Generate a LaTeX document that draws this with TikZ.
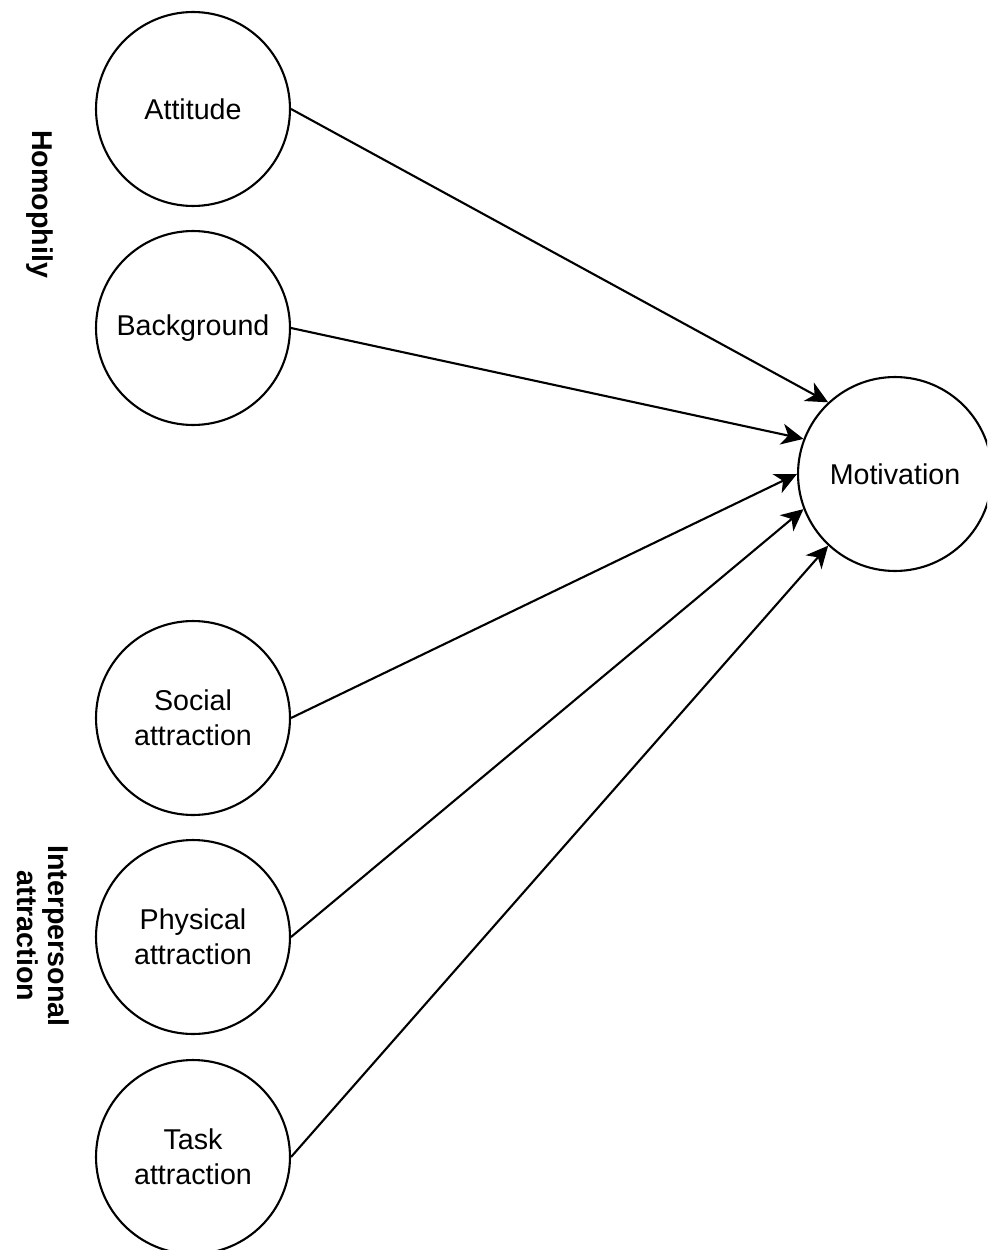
\documentclass[tikz,border=0pt]{standalone}
\usepackage{fontspec}
\setmainfont{Liberation Sans}
\usetikzlibrary{arrows.meta}
\begin{document}
\begin{tikzpicture}[x=0.02cm,y=-0.02cm,
  concept/.style={circle,draw,line width=1.2pt,minimum size=3.88cm,inner sep=0pt,align=center,font=\fontsize{16.3}{19.8}\selectfont},
  group/.style={rotate=-90,align=center,font=\fontsize{16.3}{17.5}\selectfont\bfseries},
  link/.style={line width=1.2pt,-{Stealth[length=0.44cm,width=0.42cm,inset=0.13cm]}}]
\clip (0,0) rectangle (987,1250);
\useasboundingbox (0,0) rectangle (987,1250);
\node[concept] (att) at (193,109) {Attitude};
\node[concept] (bg) at (193,328) {Background};
\node[concept] (soc) at (193,718) {Social\\attraction};
\node[concept] (phy) at (193,937) {Physical\\attraction};
\node[concept] (task) at (193,1157) {Task\\attraction};
\node[concept] (mot) at (895,474) {Motivation};
\node[group] (homo) at (40,204) {Homophily};
\node[group] (inter) at (43,936) {Interpersonal\\attraction};
\draw[link] (att.east) -- (mot.133);
\draw[link] (bg.east) -- (mot.159);
\draw[link] (soc.east) -- (mot.180);
\draw[link] (phy.east) -- (mot.201);
\draw[link] (task.east) -- (mot.227);
\end{tikzpicture}
\end{document}
